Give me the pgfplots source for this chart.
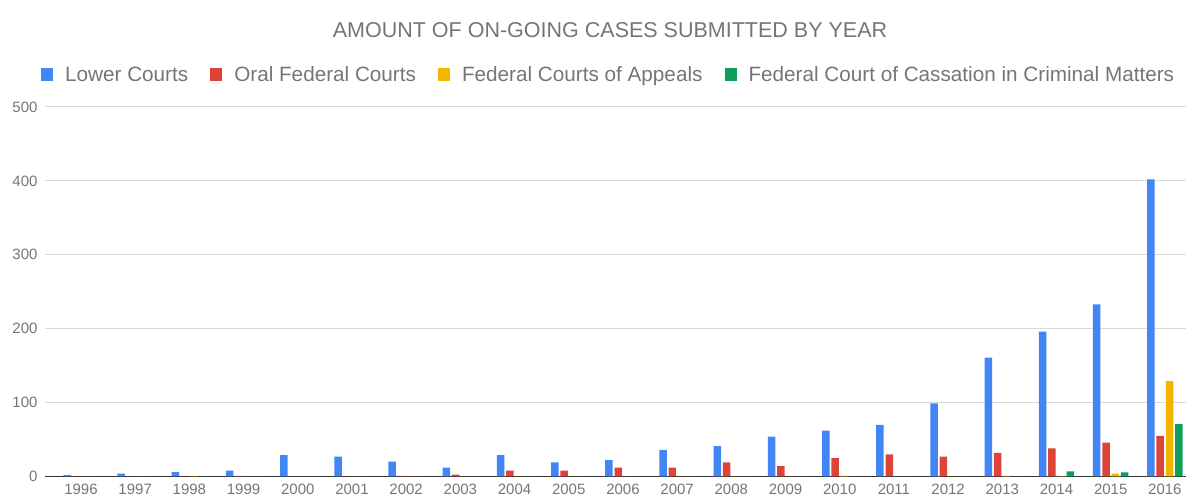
\documentclass[border=0pt]{standalone}
\usepackage{pgfplots}
\pgfplotsset{compat=1.18}
\usepackage{fontspec}
\setmainfont{Liberation Sans}
\definecolor{cblue}{HTML}{4285F4}
\definecolor{cred}{HTML}{DB4437}
\definecolor{cyellow}{HTML}{F4B400}
\definecolor{cgreen}{HTML}{0F9D58}
\definecolor{ctext}{HTML}{757575}
\definecolor{cgrid}{HTML}{D9D9D9}
\definecolor{cbase}{HTML}{333333}
\pgfplotstableread{
x lower oral appeals cassation
0 2 0 0 0
1 4 0 0 0
2 6 0 1 0
3 8 1 0 0
4 29 0 0 0
5 27 0 0 0
6 20 1 0 0
7 12 2.5 0 0
8 29 8 0 0
9 19 8 0 0
10 22 12 0 0
11 36 12 0 0
12 41 19 0 0
13 54 14 0 0
14 62 25 1 0
15 70 30 0 0
16 99 27 0 0
17 161 32 1 0
18 196 38 1 7
19 233 46 4 5.5
20 402 55 129 71
}\datatable
\begin{document}
\begin{tikzpicture}
\useasboundingbox (-45pt,-26.5pt) rectangle (1144pt,476.5pt);
\begin{axis}[
  at={(0pt,0pt)}, anchor=south west,
  scale only axis, width=1141pt, height=369.5pt,
  ybar=1.8pt, bar width=7.5pt,
  xmin=-0.664, xmax=20.39, ymin=0, ymax=500,
  ytick={0,100,200,300,400,500},
  xtick={0,...,20},
  xticklabels={1996,1997,1998,1999,2000,2001,2002,2003,2004,2005,2006,2007,2008,2009,2010,2011,2012,2013,2014,2015,2016},
  axis x line=bottom, axis y line=left,
  x axis line style={draw=cbase, line width=1.2pt, -},
  y axis line style={draw=none},
  major tick length=0pt,
  ymajorgrids, grid style={draw=cgrid, line width=1pt},
  /pgf/number format/assume math mode=true,
  ticklabel style={font=\fontsize{15}{18}\selectfont, text=ctext},
  yticklabel style={xshift=-4pt},
  xticklabel style={yshift=-4pt},
  legend columns=-1,
  legend style={at={(0.494,1.087)}, anchor=center, draw=none, fill=none,
    font=\fontsize{20.7}{24}\selectfont, text=ctext,
    /tikz/every odd column/.append style={column sep=10pt},
    /tikz/every even column/.append style={column sep=20pt}},
  legend image code/.code={\fill[#1] (0pt,-6.5pt) rectangle (12pt,6.5pt);},
]
\addplot[fill=cblue, draw=none] table[x=x, y=lower] {\datatable};
\addplot[fill=cred, draw=none] table[x=x, y=oral] {\datatable};
\addplot[fill=cyellow, draw=none] table[x=x, y=appeals] {\datatable};
\addplot[fill=cgreen, draw=none] table[x=x, y=cassation] {\datatable};
\legend{Lower Courts, Oral Federal Courts, Federal Courts of Appeals, Federal Court of Cassation in Criminal Matters}
\end{axis}
\node[text=ctext, font=\fontsize{21.5}{25}\selectfont] at (565pt,446.5pt) {AMOUNT OF ON-GOING CASES SUBMITTED BY YEAR};
\end{tikzpicture}
\end{document}
